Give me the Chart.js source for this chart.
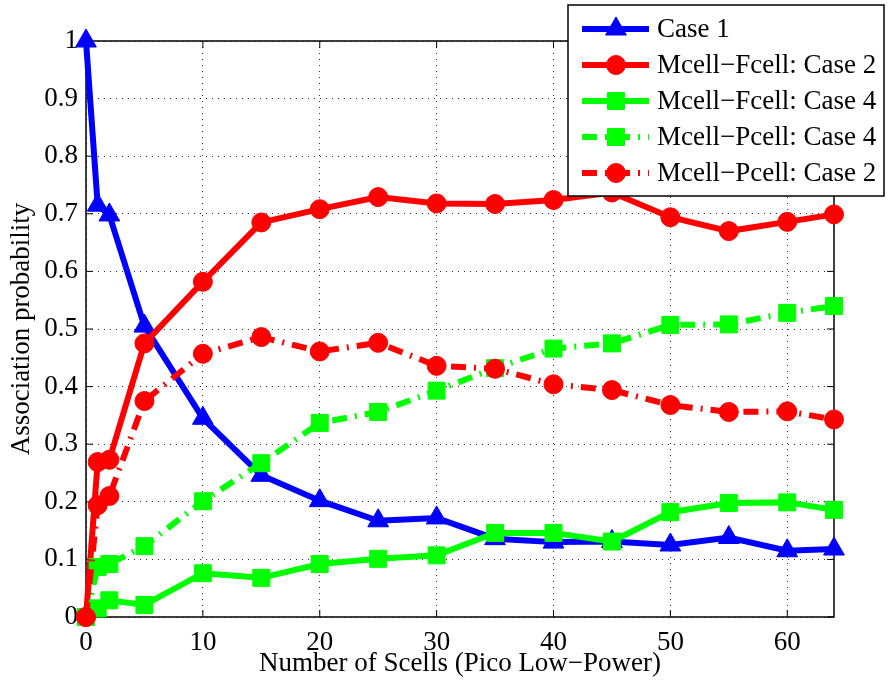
<!DOCTYPE html>
<html>
<head>
<meta charset="utf-8">
<script src="https://cdn.jsdelivr.net/npm/chart.js@4"></script>
<style>
  html, body { margin: 0; padding: 0; background: #fff; }
  #wrap { width: 888px; height: 684px; }
</style>
</head>
<body>
<div id="wrap"><canvas id="chart" width="888" height="684"></canvas></div>
<script>
// number of Scells on the x axis
const xValues = [0, 1, 2, 5, 10, 15, 20, 25, 30, 35, 40, 45, 50, 55, 60, 64];

const case1      = [1.0, 0.715, 0.698, 0.505, 0.345, 0.246, 0.202, 0.167, 0.172, 0.136, 0.130, 0.131, 0.125, 0.138, 0.115, 0.118];
const fcellCase2 = [0, 0.269, 0.273, 0.475, 0.582, 0.685, 0.708, 0.729, 0.718, 0.717, 0.724, 0.737, 0.694, 0.670, 0.686, 0.699];
const fcellCase4 = [0, 0.015, 0.029, 0.021, 0.076, 0.068, 0.092, 0.101, 0.107, 0.146, 0.146, 0.131, 0.182, 0.198, 0.199, 0.186];
const pcellCase4 = [0, 0.087, 0.092, 0.123, 0.201, 0.267, 0.337, 0.356, 0.393, 0.432, 0.466, 0.475, 0.507, 0.508, 0.528, 0.540];
const pcellCase2 = [0, 0.194, 0.210, 0.375, 0.457, 0.486, 0.461, 0.476, 0.436, 0.431, 0.404, 0.394, 0.368, 0.356, 0.357, 0.343];

const seriesLabels = ["Case 1", "Mcell\u2212Fcell: Case 2", "Mcell\u2212Fcell: Case 4", "Mcell\u2212Pcell: Case 4", "Mcell\u2212Pcell: Case 2"];

const xTicks = [0, 10, 20, 30, 40, 50, 60];
const yTicks = [0, 0.1, 0.2, 0.3, 0.4, 0.5, 0.6, 0.7, 0.8, 0.9, 1];

const FONT = "'Liberation Serif', 'Times New Roman', serif";
const FSIZE = 27;
const DASHDOT = [15, 8, 2, 8];

function pts(ys) {
  return xValues.map((x, i) => ({ x: x, y: ys[i] }));
}

function makeSet(label, data, color, style, radius, dash, order) {
  return {
    label: label,
    data: pts(data),
    borderColor: color,
    backgroundColor: color,
    pointBackgroundColor: color,
    pointBorderColor: color,
    borderWidth: 6,
    borderDash: dash,
    pointStyle: style,
    pointRadius: radius,
    pointBorderWidth: 1,
    tension: 0,
    clip: false,
    order: order
  };
}

function drawMarker(ctx, style, r, x, y, color) {
  ctx.save();
  ctx.setLineDash([]);
  ctx.fillStyle = color;
  ctx.strokeStyle = color;
  ctx.lineWidth = 1;
  ctx.beginPath();
  if (style === "circle") {
    ctx.arc(x, y, r, 0, Math.PI * 2);
  } else if (style === "rect") {
    const s = r * Math.SQRT1_2;
    ctx.rect(x - s, y - s, 2 * s, 2 * s);
  } else {
    const a = Math.PI / 6;
    ctx.moveTo(x, y - r);
    ctx.lineTo(x + Math.cos(a) * r, y + Math.sin(a) * r);
    ctx.lineTo(x - Math.cos(a) * r, y + Math.sin(a) * r);
    ctx.closePath();
  }
  ctx.fill();
  ctx.stroke();
  ctx.restore();
}

// axes box with inward ticks, like the original figure
const framePlugin = {
  id: "frame",
  beforeDatasetsDraw(chart) {
    const { ctx, chartArea: a, scales } = chart;
    ctx.save();
    ctx.strokeStyle = "#000";
    ctx.lineWidth = 1.5;
    ctx.strokeRect(a.left, a.top, a.right - a.left, a.bottom - a.top);
    ctx.lineWidth = 1;
    ctx.beginPath();
    xTicks.forEach(v => {
      const px = scales.x.getPixelForValue(v);
      ctx.moveTo(px, a.bottom); ctx.lineTo(px, a.bottom - 7);
      ctx.moveTo(px, a.top); ctx.lineTo(px, a.top + 7);
    });
    yTicks.forEach(v => {
      const py = scales.y.getPixelForValue(v);
      ctx.moveTo(a.left, py); ctx.lineTo(a.left + 7, py);
      ctx.moveTo(a.right, py); ctx.lineTo(a.right - 7, py);
    });
    ctx.stroke();
    ctx.restore();
  }
};

// legend box in the upper right, overlapping the axes
const legendPlugin = {
  id: "boxLegend",
  afterDraw(chart) {
    const ctx = chart.ctx;
    const box = { x: 568, y: 5, w: 316, h: 191 };
    ctx.save();
    ctx.fillStyle = "#fff";
    ctx.fillRect(box.x, box.y, box.w, box.h);
    ctx.strokeStyle = "#000";
    ctx.lineWidth = 1.5;
    ctx.strokeRect(box.x, box.y, box.w, box.h);
    ctx.font = FSIZE + "px " + FONT;
    ctx.textBaseline = "middle";
    ctx.textAlign = "left";
    chart.data.datasets.forEach((ds, i) => {
      const y = 29 + i * 36;
      ctx.strokeStyle = ds.borderColor;
      ctx.lineWidth = ds.borderWidth;
      ctx.setLineDash(ds.borderDash || []);
      ctx.beginPath();
      ctx.moveTo(582, y);
      ctx.lineTo(649, y);
      ctx.stroke();
      drawMarker(ctx, ds.pointStyle, ds.pointRadius, 616, y, ds.borderColor);
      ctx.setLineDash([]);
      ctx.fillStyle = "#000";
      ctx.fillText(ds.label, 657, y + 1);
    });
    ctx.restore();
  }
};

new Chart(document.getElementById("chart").getContext("2d"), {
  type: "line",
  data: {
    datasets: [
      makeSet(seriesLabels[0], case1, "#0000ff", "triangle", 12, [], 5),
      makeSet(seriesLabels[1], fcellCase2, "#ff0000", "circle", 9.5, [], 4),
      makeSet(seriesLabels[2], fcellCase4, "#00ff00", "rect", 12, [], 3),
      makeSet(seriesLabels[3], pcellCase4, "#00ff00", "rect", 12, DASHDOT, 2),
      makeSet(seriesLabels[4], pcellCase2, "#ff0000", "circle", 9.5, DASHDOT, 1)
    ]
  },
  options: {
    responsive: false,
    animation: false,
    devicePixelRatio: 1,
    layout: { padding: { top: 41, right: 54, left: 0, bottom: 0 } },
    plugins: {
      legend: { display: false },
      tooltip: { enabled: false }
    },
    scales: {
      x: {
        type: "linear",
        min: 0,
        max: 64,
        afterBuildTicks: s => { s.ticks = xTicks.map(v => ({ value: v })); },
        afterFit: s => { s.height = 67; },
        ticks: { color: "#000", padding: 10, font: { family: FONT, size: FSIZE }, maxRotation: 0 },
        grid: { color: "#333", lineWidth: 1, drawTicks: false },
        border: { display: false, dash: [1, 5] },
        title: {
          display: true,
          text: "Number of Scells (Pico Low\u2212Power)",
          color: "#000",
          font: { family: FONT, size: FSIZE, lineHeight: 1.2 },
          padding: { top: 0, bottom: 4 }
        }
      },
      y: {
        min: 0,
        max: 1,
        afterBuildTicks: s => { s.ticks = yTicks.map(v => ({ value: v })); },
        afterFit: s => { s.width = 86; },
        ticks: { color: "#000", padding: 8, font: { family: FONT, size: FSIZE }, callback: v => String(v) },
        grid: { color: "#333", lineWidth: 1, drawTicks: false },
        border: { display: false, dash: [1, 5] },
        title: {
          display: true,
          text: "Association probability",
          color: "#000",
          font: { family: FONT, size: FSIZE, lineHeight: 1.2 },
          padding: { top: 6, bottom: 0 }
        }
      }
    }
  },
  plugins: [framePlugin, legendPlugin]
});
</script>
</body>
</html>
